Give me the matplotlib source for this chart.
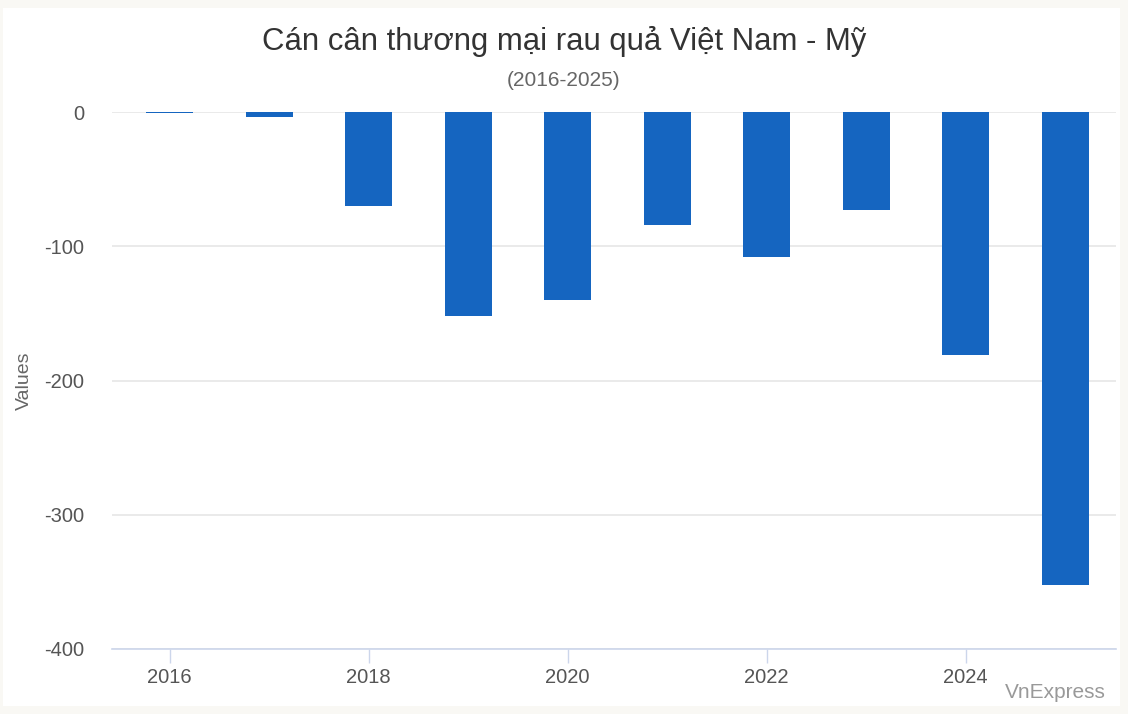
import matplotlib
matplotlib.use("Agg")
import matplotlib.pyplot as plt
from matplotlib.patches import Rectangle

plt.rcParams['font.family'] = ['Liberation Sans', 'DejaVu Sans']

years = [2016, 2017, 2018, 2019, 2020, 2021, 2022, 2023, 2024, 2025]
values = [-1, -4, -70, -152, -140, -84, -108, -73, -181, -352]
xticks = [2016, 2018, 2020, 2022, 2024]
yticks = [0, -100, -200, -300, -400]

W, H = 1128, 714
fig = plt.figure(figsize=(W / 100, H / 100), dpi=100)
fig.patch.set_facecolor('#f9f8f4')
# white card behind everything
fig.patches.append(Rectangle((3 / W, 8 / H), 1117 / W, 698 / H, transform=fig.transFigure,
                             facecolor='white', edgecolor='none', zorder=-5))

ax = fig.add_axes([112 / W, 1 - 649 / H, (1116 - 112) / W, (649 - 112) / H])
ax.set_facecolor('none')
ax.set_zorder(2)

ax.bar(years, values, width=0.47, color='#1565c0', zorder=3)

ax.set_xlim(2015.42, 2025.51)
ax.set_ylim(-400, 0)
ax.set_yticks(yticks)
ax.set_yticklabels([str(v) for v in yticks])
ax.set_xticks(xticks)
ax.set_xticklabels([str(v) for v in xticks])

ax.grid(axis='y', color='#e6e6e6', linewidth=1.2, zorder=0)
ax.grid(axis='x', visible=False)
for s in ['top', 'right', 'left']:
    ax.spines[s].set_visible(False)
ax.spines['bottom'].set_color('#ccd6eb')
ax.spines['bottom'].set_linewidth(1.2)
ax.spines['bottom'].set_zorder(4)

ax.tick_params(axis='y', length=0, pad=20, labelsize=14.5, labelcolor='#555555')
ax.tick_params(axis='x', length=10, width=1, color='#ccd6eb', pad=4,
               labelsize=14.5, labelcolor='#555555')
ax.set_ylabel('Values', fontsize=14, color='#666666', labelpad=8)

fig.text(0.5, 1 - 41 / H, 'Cán cân thương mại rau quả Việt Nam - Mỹ',
         ha='center', va='center', fontsize=22.4, color='#333333')
fig.text(0.5, 1 - 80 / H, '(2016-2025)', ha='center', va='center',
         fontsize=15, color='#666666')
fig.text(1106 / W, 1 - 692 / H, 'VnExpress', ha='right', va='center',
         fontsize=15, color='#999999')

fig.savefig('out.png', dpi=100)
